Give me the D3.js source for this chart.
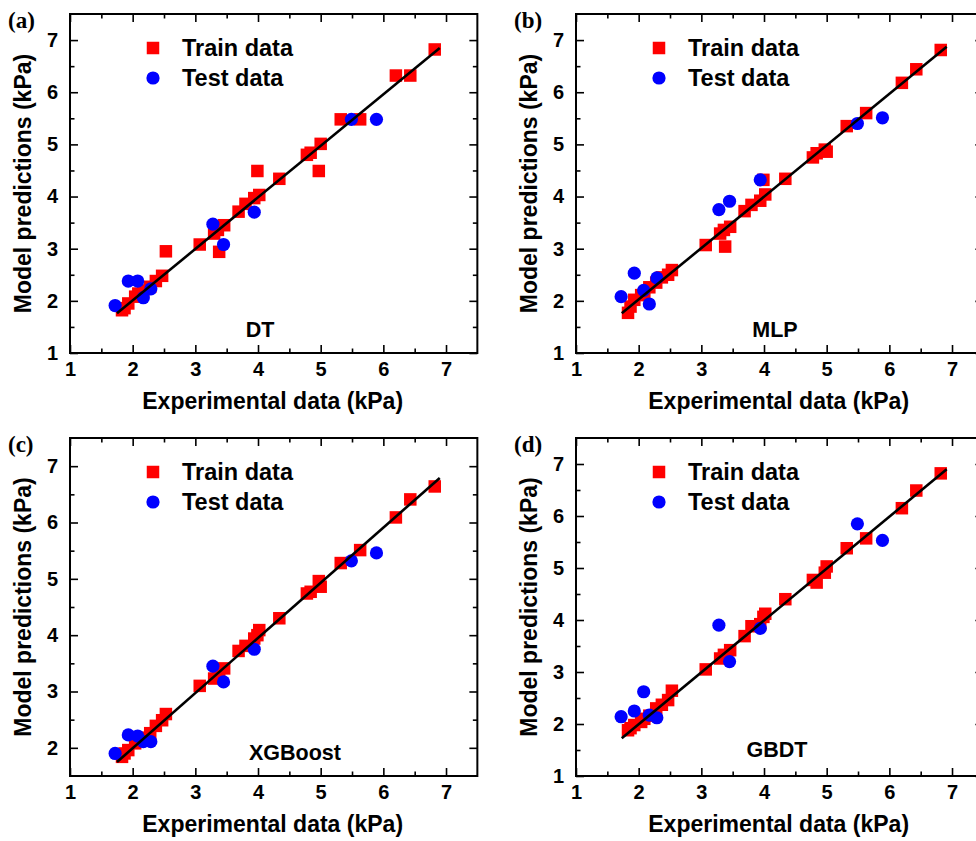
<!DOCTYPE html>
<html><head><meta charset="utf-8">
<script src="https://cdn.jsdelivr.net/npm/d3@7"></script>
<style>body{margin:0;background:#fff}svg{display:block}</style>
</head><body>
<svg id="chart" width="976" height="841"></svg>
<script>
// ---------- DATA ----------
const models = ["DT", "MLP", "XGBoost", "GBDT"];
const panelLetters = ["(a)", "(b)", "(c)", "(d)"];
const legendLabels = ["Train data", "Test data"];
const xTitle = "Experimental data (kPa)";
const yTitle = "Model predictions (kPa)";

const trainX = [1.83, 1.87, 1.93, 2.04, 2.09, 2.17, 2.28, 2.37, 2.47, 2.53,
                3.07, 3.30, 3.36, 3.38, 3.46, 3.69, 3.80, 3.94, 3.99, 4.02,
                4.34, 4.78, 4.84, 4.97, 5.00, 5.32, 5.63, 6.20, 6.43, 6.82];
const testX = [1.72, 1.93, 2.08, 2.17, 2.29, 3.28, 3.45, 3.94, 5.49, 5.89];

const dtTrain   = [1.82, 1.86, 1.95, 2.08, 2.14, 2.20, 2.27, 2.38, 2.48, 2.95,
                   3.08, 3.29, 3.36, 2.94, 3.45, 3.71, 3.86, 3.97, 4.49, 4.03,
                   4.34, 4.80, 4.84, 4.49, 5.01, 5.48, 5.48, 6.32, 6.32, 6.82];
const mlpTrain  = [1.77, 1.89, 2.02, 2.11, 2.15, 2.26, 2.35, 2.45, 2.50, 2.59,
                   3.07, 3.29, 3.36, 3.04, 3.42, 3.72, 3.84, 3.92, 4.32, 4.04,
                   4.34, 4.75, 4.83, 4.90, 4.86, 5.35, 5.60, 6.18, 6.44, 6.81];
const xgbTrain  = [1.84, 1.90, 1.96, 2.08, 2.13, 2.18, 2.26, 2.39, 2.49, 2.60,
                   3.10, 3.23, 3.32, 3.30, 3.41, 3.72, 3.81, 3.94, 4.00, 4.09,
                   4.30, 4.74, 4.77, 4.96, 4.86, 5.28, 5.51, 6.09, 6.41, 6.64];
const gbdtTrain = [1.88, 1.92, 1.98, 2.04, 2.10, 2.16, 2.30, 2.37, 2.46, 2.64,
                   3.05, 3.26, 3.33, 3.30, 3.42, 3.69, 3.88, 3.92, 4.06, 4.12,
                   4.40, 4.77, 4.72, 4.91, 5.03, 5.38, 5.57, 6.15, 6.49, 6.82];

const dtTest   = [1.91, 2.38, 2.38, 2.06, 2.23, 3.47, 3.08, 3.70, 5.48, 5.48];
const mlpTest  = [2.08, 2.53, 2.20, 1.94, 2.44, 3.75, 3.91, 4.32, 5.40, 5.51];
const xgbTest  = [1.90, 2.23, 2.21, 2.11, 2.11, 3.45, 3.17, 3.75, 5.32, 5.46];
const gbdtTest = [2.14, 2.25, 2.62, 2.17, 2.12, 3.90, 3.20, 3.84, 5.85, 5.53];

// fitted line end points [x0, y0, x1, y1]
const dtFit   = [1.75, 1.76, 6.90, 6.85];
const mlpFit  = [1.73, 1.76, 6.915, 6.87];
const xgbFit  = [1.75, 1.75, 6.90, 6.79];
const gbdtFit = [1.73, 1.725, 6.915, 6.90];

const xDomain = [1, 7.5];
const yDomains = [[1, 7.5], [1, 7.5], [1.5, 7.5], [1, 7.5]];
const xTicks = [1, 2, 3, 4, 5, 6, 7];
const yTicksFull = [1, 2, 3, 4, 5, 6, 7];
const yTicksShort = [2, 3, 4, 5, 6, 7];
const minorTicks = [1.5, 2.5, 3.5, 4.5, 5.5, 6.5];

const trainSets = [dtTrain, mlpTrain, xgbTrain, gbdtTrain];
const testSets = [dtTest, mlpTest, xgbTest, gbdtTest];
const fits = [dtFit, mlpFit, xgbFit, gbdtFit];
const yTickSets = [yTicksFull, yTicksFull, yTicksShort, yTicksFull];

// ---------- LAYOUT ----------
const panels = [
  {left: 70,  top: 14,  bottom: 353, labelX: 190, labelDy: 16},
  {left: 576, top: 14,  bottom: 353, labelX: 199, labelDy: 16},
  {left: 70,  top: 438, bottom: 776, labelX: 225, labelDy: 16},
  {left: 576, top: 438, bottom: 776, labelX: 201, labelDy: 19}
];
const unitX = 62.67;
const FONT = "'Liberation Sans', Arial, Helvetica, sans-serif";
const RED = "#FF0000", BLUE = "#0000FF";

const svg = d3.select("#chart");

panels.forEach((p, i) => {
  const right = p.left + (xDomain[1] - xDomain[0]) * unitX;
  const x = d3.scaleLinear().domain(xDomain).range([p.left, right]);
  const y = d3.scaleLinear().domain(yDomains[i]).range([p.bottom, p.top]);
  const g = svg.append("g");

  const clipId = "clip" + i;
  g.append("clipPath").attr("id", clipId).append("rect")
    .attr("x", p.left).attr("y", p.top).attr("width", right - p.left).attr("height", p.bottom - p.top);

  const styleAxis = sel => {
    sel.select(".domain").remove();
    sel.selectAll("line").attr("stroke", "#000").attr("stroke-width", 1.6);
    sel.selectAll("text").attr("font-family", FONT).attr("font-weight", "bold")
      .attr("font-size", 20).attr("fill", "#000");
  };
  const yMinor = minorTicks.filter(v => v > yDomains[i][0] && v < yDomains[i][1]);

  g.append("g").attr("transform", `translate(0,${p.bottom})`)
    .call(d3.axisBottom(x).tickValues(xTicks).tickFormat(d3.format("d")).tickSize(-8).tickPadding(9)).call(styleAxis);
  g.append("g").attr("transform", `translate(0,${p.bottom})`)
    .call(d3.axisBottom(x).tickValues(minorTicks).tickFormat("").tickSize(-4.5)).call(styleAxis);
  g.append("g").attr("transform", `translate(0,${p.top})`)
    .call(d3.axisTop(x).tickValues(xTicks).tickFormat("").tickSize(-8)).call(styleAxis);
  g.append("g").attr("transform", `translate(0,${p.top})`)
    .call(d3.axisTop(x).tickValues(minorTicks).tickFormat("").tickSize(-4.5)).call(styleAxis);

  g.append("g").attr("transform", `translate(${p.left},0)`)
    .call(d3.axisLeft(y).tickValues(yTickSets[i]).tickFormat(d3.format("d")).tickSize(-8).tickPadding(12)).call(styleAxis);
  g.append("g").attr("transform", `translate(${p.left},0)`)
    .call(d3.axisLeft(y).tickValues(yMinor).tickFormat("").tickSize(-4.5)).call(styleAxis);
  g.append("g").attr("transform", `translate(${right},0)`)
    .call(d3.axisRight(y).tickValues(yTickSets[i]).tickFormat("").tickSize(-8)).call(styleAxis);
  g.append("g").attr("transform", `translate(${right},0)`)
    .call(d3.axisRight(y).tickValues(yMinor).tickFormat("").tickSize(-4.5)).call(styleAxis);

  g.append("rect").attr("x", p.left).attr("y", p.top)
    .attr("width", right - p.left).attr("height", p.bottom - p.top)
    .attr("fill", "none").attr("stroke", "#000").attr("stroke-width", 2);

  const marks = g.append("g").attr("clip-path", `url(#${clipId})`);
  const sq = 12.5;
  marks.selectAll("rect.train").data(trainX.map((v, k) => [v, trainSets[i][k]]))
    .enter().append("rect").attr("class", "train")
    .attr("x", d => x(d[0]) - sq / 2).attr("y", d => y(d[1]) - sq / 2)
    .attr("width", sq).attr("height", sq).attr("fill", RED);
  marks.selectAll("circle.test").data(testX.map((v, k) => [v, testSets[i][k]]))
    .enter().append("circle").attr("class", "test")
    .attr("cx", d => x(d[0])).attr("cy", d => y(d[1])).attr("r", 6.6).attr("fill", BLUE);

  const f = fits[i];
  marks.append("line")
    .attr("x1", x(f[0])).attr("y1", y(f[1])).attr("x2", x(f[2])).attr("y2", y(f[3]))
    .attr("stroke", "#000").attr("stroke-width", 2.6);

  const lx = p.left + 83;
  g.append("rect").attr("x", lx - 6.25).attr("y", p.top + 34 - 6.25).attr("width", 12.5).attr("height", 12.5).attr("fill", RED);
  g.append("circle").attr("cx", lx).attr("cy", p.top + 64).attr("r", 6.6).attr("fill", BLUE);
  [34, 64].forEach((dy, k) => {
    g.append("text").attr("x", p.left + 112).attr("y", p.top + dy + 8)
      .attr("font-family", FONT).attr("font-weight", "bold").attr("font-size", 23.5)
      .text(legendLabels[k]);
  });

  g.append("text").attr("x", p.left + p.labelX).attr("y", p.bottom - p.labelDy)
    .attr("text-anchor", "middle").attr("font-family", FONT).attr("font-weight", "bold")
    .attr("font-size", 21.5).text(models[i]);

  g.append("text").attr("x", (p.left + right) / 2 - 1).attr("y", p.bottom + 56)
    .attr("text-anchor", "middle").attr("font-family", FONT).attr("font-weight", "bold")
    .attr("font-size", 23).text(xTitle);
  const ty = (p.top + p.bottom) / 2;
  g.append("text").attr("transform", `translate(${p.left - 39},${ty}) rotate(-90)`)
    .attr("text-anchor", "middle").attr("font-family", FONT).attr("font-weight", "bold")
    .attr("font-size", 23).text(yTitle);

  g.append("text").attr("x", p.left - 62).attr("y", p.top + 14)
    .attr("font-family", "'Liberation Serif', 'Times New Roman', serif").attr("font-weight", "bold")
    .attr("font-size", 23).text(panelLetters[i]);
});
</script>
</body></html>
